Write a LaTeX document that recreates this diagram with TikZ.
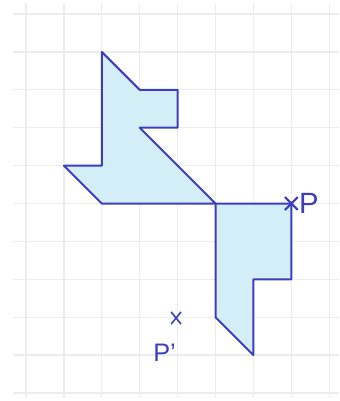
\documentclass[tikz,border=0pt]{standalone}
\usepackage{fontspec}
\usepackage{tikz}
\usetikzlibrary{positioning}
\setsansfont{Liberation Sans}
\definecolor{ink}  {HTML}{3D3DBE}
\definecolor{wash} {HTML}{D4EEF7}
\definecolor{paper}{HTML}{ECECEC}

\begin{document}
\begin{tikzpicture}
    \useasboundingbox (-0.686, 0.37) rectangle (8.259, -10.21);

    % squared paper
    \foreach \r in {0,...,10}
      \draw[paper, line width=1pt] (-0.343, -\r) -- (8.259, -\r);
    \foreach \c in {0,...,8}
      \draw[paper, line width=1pt] (\c, 0.29) -- (\c, -10.13);

    \filldraw[fill=wash, draw=ink, line width=1.5pt, line join=round]
      (2,-1) -- (3,-2) -- (4,-2) -- (4,-3) -- (3,-3) -- (5,-5)
      -- (2,-5) -- (1,-4) -- (2,-4) -- cycle;
    \filldraw[fill=wash, draw=ink, line width=1.5pt, line join=round]
      (5,-5) -- (7,-5) -- (7,-7) -- (6,-7) -- (6,-9) -- (5,-8) -- cycle;

    \coordinate (P)  at (7, -5);
    \coordinate (Pp) at (3.96, -8.02);
    \draw[ink, line width=1.6pt] (P) ++(-0.17, 0.17) -- ++(0.34, -0.34)
                                 (P) ++(-0.17, -0.17) -- ++(0.34, 0.34);
    \draw[ink, line width=1.2pt] (Pp) ++(-0.13, 0.16) -- ++(0.26, -0.32)
                                 (Pp) ++(-0.13, -0.16) -- ++(0.26, 0.32);

    \node[right=0.2 of P, inner sep=0, text=ink, font=\sffamily\fontsize{22}{24}\selectfont] (Plabel) {P};
    \node[below left=0.68 and 0 of Pp, inner sep=0, text=ink, font=\sffamily\fontsize{19}{21}\selectfont] (Pplabel) {P'};
\end{tikzpicture}
\end{document}
